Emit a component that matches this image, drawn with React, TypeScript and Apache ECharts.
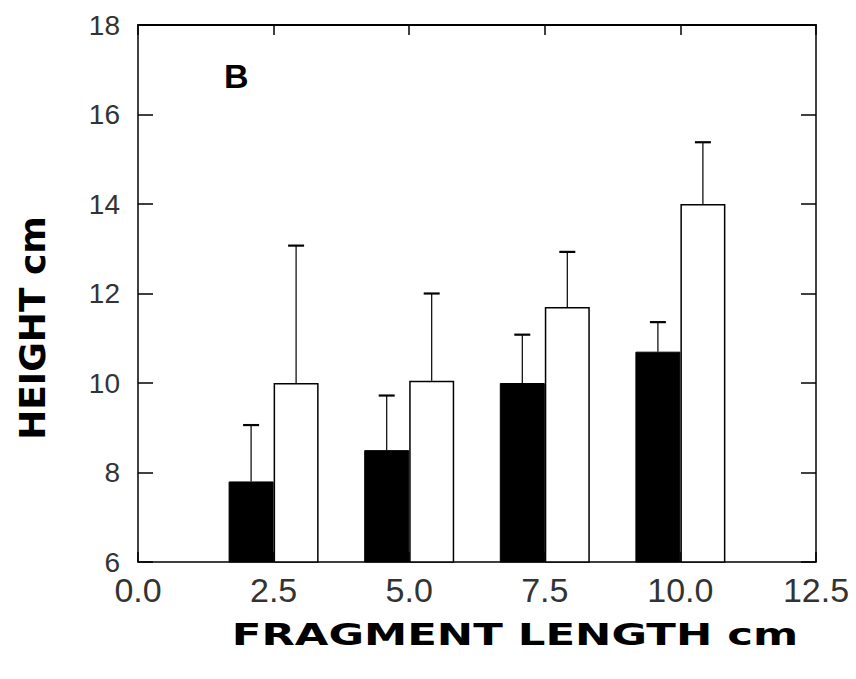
import React, { useEffect, useRef } from "react";
import * as echarts from "echarts";

const fragmentLengths = [2.5, 5.0, 7.5, 10.0];
const blackMeans = [7.8, 8.5, 10.0, 10.7];
const blackErrors = [1.26, 1.22, 1.08, 0.66];
const whiteMeans = [10.0, 10.05, 11.7, 14.0];
const whiteErrors = [3.07, 1.95, 1.23, 1.38];
const xTicks = { min: 0, max: 12.5, interval: 2.5 };
const yTicks = { min: 6, max: 18, interval: 2 };

const BAR_W = 45;

function errorSeries(means: number[], errs: number[], offset: number) {
  return {
    type: "custom",
    z: 5,
    xAxisIndex: 0,
    yAxisIndex: 0,
    encode: { x: 0, y: [1, 2] },
    data: fragmentLengths.map((x, i) => [x, means[i], means[i] + errs[i]]),
    renderItem: (params: any, api: any) => {
      const x = api.value(0);
      const p0 = api.coord([x, api.value(1)]);
      const p1 = api.coord([x, api.value(2)]);
      const cx = p0[0] + offset;
      return {
        type: "group",
        children: [
          {
            type: "line",
            shape: { x1: cx, y1: p0[1], x2: cx, y2: p1[1] },
            style: { stroke: "#000", lineWidth: 1.2 },
          },
          {
            type: "line",
            shape: { x1: cx - 8, y1: p1[1], x2: cx + 8, y2: p1[1] },
            style: { stroke: "#000", lineWidth: 2.2 },
          },
        ],
      };
    },
  };
}

export default function App() {
  const ref = useRef<HTMLDivElement>(null);
  useEffect(() => {
    document.body.style.margin = "0";
    const chart = echarts.init(ref.current!, null, { renderer: "svg" });
    const axisLine = { show: true, onZero: false, lineStyle: { color: "#000", width: 1.5 } };
    chart.setOption({
      animation: false,
      backgroundColor: "#fff",
      grid: { left: 138, right: 40, top: 25, bottom: 117 },
      xAxis: [
        {
          type: "value",
          position: "bottom",
          ...xTicks,
          axisLine,
          axisTick: { show: true, inside: true, length: 10, lineStyle: { color: "#000", width: 1.5 } },
          axisLabel: {
            formatter: (v: number) => v.toFixed(1),
            fontSize: 34,
            fontFamily: "Liberation Sans",
            color: "#333",
            margin: 11,
          },
          splitLine: { show: false },
        },
        {
          type: "value",
          position: "top",
          ...xTicks,
          axisLine: { ...axisLine, lineStyle: { color: "#000", width: 2 } },
          axisTick: { show: true, inside: true, length: 10, lineStyle: { color: "#000", width: 1.5 } },
          axisLabel: { show: false },
          splitLine: { show: false },
        },
      ],
      yAxis: [
        {
          type: "value",
          position: "left",
          ...yTicks,
          axisLine,
          axisTick: { show: true, inside: true, length: 15, lineStyle: { color: "#000", width: 1.5 } },
          axisLabel: {
            fontSize: 28,
            fontFamily: "Liberation Sans",
            color: "#333",
            margin: 18,
          },
          splitLine: { show: false },
        },
        {
          type: "value",
          position: "right",
          ...yTicks,
          axisLine,
          axisTick: { show: true, inside: true, length: 15, lineStyle: { color: "#000", width: 1.5 } },
          axisLabel: { show: false },
          splitLine: { show: false },
        },
      ],
      series: [
        {
          type: "bar",
          xAxisIndex: 0,
          yAxisIndex: 0,
          barWidth: BAR_W,
          barGap: "0%",
          data: fragmentLengths.map((x, i) => [x, blackMeans[i]]),
          itemStyle: { color: "#000", borderColor: "#000", borderWidth: 1 },
        },
        {
          type: "bar",
          xAxisIndex: 0,
          yAxisIndex: 0,
          barWidth: BAR_W,
          barGap: "0%",
          data: fragmentLengths.map((x, i) => [x, whiteMeans[i]]),
          itemStyle: { color: "#fff", borderColor: "#000", borderWidth: 1.5 },
        },
        errorSeries(blackMeans, blackErrors, -BAR_W / 2),
        errorSeries(whiteMeans, whiteErrors, BAR_W / 2),
      ],
      graphic: [
        {
          type: "text",
          left: 224,
          top: 59,
          style: {
            text: "B",
            font: "bold 34px 'Liberation Sans'",
            fill: "#000",
          },
        },
        {
          type: "text",
          x: 32,
          y: 328,
          rotation: Math.PI / 2,
          style: {
            text: "HEIGHT cm",
            font: "bold 36px 'DejaVu Sans'",
            fill: "#000",
            align: "center",
            verticalAlign: "middle",
          },
        },
        {
          type: "text",
          x: 515,
          y: 634,
          scaleX: 1.4,
          style: {
            text: "FRAGMENT LENGTH cm",
            font: "bold 31px 'DejaVu Sans'",
            fill: "#000",
            align: "center",
            verticalAlign: "middle",
          },
        },
      ],
    });
    return () => chart.dispose();
  }, []);
  return <div ref={ref} style={{ width: 856, height: 679 }} />;
}
